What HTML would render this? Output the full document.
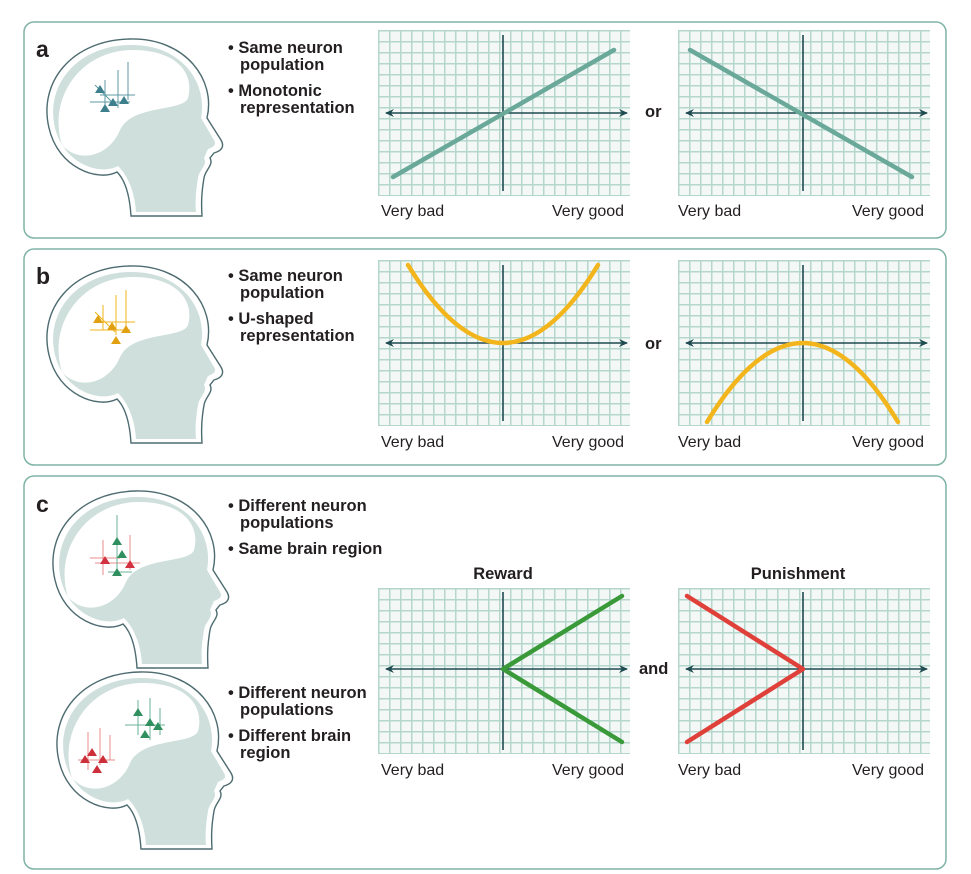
<!DOCTYPE html>
<html><head><meta charset="utf-8"><style>
html,body{margin:0;padding:0;background:#fff}
svg{display:block}
text{font-family:"Liberation Sans",sans-serif;fill:#231f20}
.b{font-weight:bold;font-size:16.5px}
.l{font-size:16px}
</style></head><body>
<svg width="971" height="874" viewBox="0 0 971 874" xmlns="http://www.w3.org/2000/svg">
<defs>
<pattern id="g" x="0" y="0" width="11" height="11" patternUnits="userSpaceOnUse">
<rect width="11" height="11" fill="#f3f8f6"/>
<path d="M0.75,0V11M0,0.75H11" stroke="#b5d6cc" stroke-width="1.5"/>
</pattern>
<marker id="ar" markerWidth="10" markerHeight="10" refX="8" refY="5" orient="auto" markerUnits="userSpaceOnUse">
<path d="M0,1 L9,5 L0,9 L3,5Z" fill="#1f4a50"/>
</marker>
<g id="head">
<path d="M117,172 C98,182 58,168 49,128 C38,82 72,40 130,39 C186,38 216,80 207,118 L221,140 C225,147 221,151 214,153 L210,158 C214,165 205,170 204,178 C202,190 201,200 202,216 L131,216 C130,200 127,182 117,172 Z" fill="#fff" stroke="#4d6b70" stroke-width="1.4"/>
<path d="M118,166 C100,176 64,164 55,128 C45,86 76,46 130,45 C181,44 208,82 201,118 L214,140 C217,145 213,147 208,149 L204,158 C208,165 199,170 198,178 C196,190 195,200 196,212 L136,212 C135,196 130,178 118,166 Z" fill="#cfe0dc"/>
<path d="M62,145 C48,100 78,52 130,50 C175,49 195,72 188,98 C183,112 132,104 120,130 C110,155 80,165 62,145 Z" fill="#fff"/>
</g>
<g id="grid">
<rect x="0" y="0" width="252" height="166" fill="url(#g)"/>
</g>
</defs>

<rect x="24" y="22" width="922" height="216" rx="10" fill="#fff" stroke="#7fb3a6" stroke-width="1.5"/>
<rect x="24" y="249" width="922" height="216" rx="10" fill="#fff" stroke="#7fb3a6" stroke-width="1.5"/>
<rect x="24" y="476" width="922" height="393" rx="10" fill="#fff" stroke="#7fb3a6" stroke-width="1.5"/>

<use href="#head"/>
<use href="#head" transform="translate(0,227)"/>
<use href="#head" transform="translate(6,452)"/>
<use href="#head" transform="translate(10,633)"/>

<g stroke-width="1" fill="none">
<g stroke="#5c9aa3"><path d="M100,95H135M105,80V105M118,70V108M128,62V100M90,102H130M95,85L115,105"/></g>
<g fill="#3d7f8c"><path d="M100,85l5,8h-10z M113,98l5,8h-10z M124,96l5,8h-10z M105,104l5,8h-10z"/></g>
<g stroke="#f2b51b"><path d="M98,322H135M103,305V330M116,295V335M126,290V328M90,330H130M95,312L115,332"/></g>
<g fill="#e0a010"><path d="M98,315l5,8h-10z M112,322l5,8h-10z M126,325l5,8h-10z M116,336l5,8h-10z"/></g>
<g stroke="#e88c8c"><path d="M95,563H140M103,540V575M130,535V570M90,558H120"/></g>
<g stroke="#6ab39a"><path d="M117,515V570M108,572H132"/></g>
<g fill="#d33040"><path d="M130,560l5,8h-10z M105,556l5,8h-10z"/></g>
<g fill="#2f8f5f"><path d="M117,537l5,8h-10z M117,568l5,8h-10z M122,550l5,8h-10z"/></g>
<g stroke="#e88c8c"><path d="M78,760H115M88,732V770M100,728V765M110,735V760"/></g>
<g fill="#cc2f3a"><path d="M92,748l5,8h-10z M103,755l5,8h-10z M97,765l5,8h-10z M85,755l5,8h-10z"/></g>
<g stroke="#6ab39a"><path d="M125,725H165M138,700V735M150,698V740M160,708V735"/></g>
<g fill="#2f8f5f"><path d="M138,708l5,8h-10z M150,718l5,8h-10z M145,730l5,8h-10z M158,722l5,8h-10z"/></g>
</g>

<text x="36" y="57" style="font-weight:bold;font-size:23px">a</text>
<text x="36" y="284" style="font-weight:bold;font-size:23px">b</text>
<text x="36" y="512" style="font-weight:bold;font-size:23px">c</text>

<text class="b" x="228" y="53">• Same neuron</text>
<text class="b" x="240" y="70">population</text>
<text class="b" x="228" y="96">• Monotonic</text>
<text class="b" x="240" y="113">representation</text>
<text class="b" x="228" y="281">• Same neuron</text>
<text class="b" x="240" y="298">population</text>
<text class="b" x="228" y="324">• U-shaped</text>
<text class="b" x="240" y="341">representation</text>
<text class="b" x="228" y="511">• Different neuron</text>
<text class="b" x="240" y="528">populations</text>
<text class="b" x="228" y="554">• Same brain region</text>
<text class="b" x="228" y="698">• Different neuron</text>
<text class="b" x="240" y="715">populations</text>
<text class="b" x="228" y="741">• Different brain</text>
<text class="b" x="240" y="758">region</text>

<use href="#grid" x="378" y="30"/>
<use href="#grid" x="678" y="30"/>
<use href="#grid" x="378" y="260"/>
<use href="#grid" x="678" y="260"/>
<use href="#grid" x="378" y="588"/>
<use href="#grid" x="678" y="588"/>
<g stroke="#1f4a50" stroke-width="1.6" fill="none">
<path d="M503,35V191M803,35V191M503,265V421M803,265V421M503,592V750M803,592V750"/>
<path d="M503,113H386" marker-end="url(#ar)"/><path d="M503,113H627" marker-end="url(#ar)"/>
<path d="M803,113H686" marker-end="url(#ar)"/><path d="M803,113H927" marker-end="url(#ar)"/>
<path d="M503,343H386" marker-end="url(#ar)"/><path d="M503,343H627" marker-end="url(#ar)"/>
<path d="M803,343H686" marker-end="url(#ar)"/><path d="M803,343H927" marker-end="url(#ar)"/>
<path d="M503,669H386" marker-end="url(#ar)"/><path d="M503,669H627" marker-end="url(#ar)"/>
<path d="M803,669H686" marker-end="url(#ar)"/><path d="M803,669H927" marker-end="url(#ar)"/>
</g>
<g fill="none" stroke-width="4.5" stroke-linecap="round">
<path d="M393,177L614,50M690,50L912,177" stroke="#6aa89a"/>
<path d="M408,265Q503,421 598,265M707,422Q803,264 898,422" stroke="#f2b51b"/>
<path d="M622,596L503,669L622,742" stroke="#3a9a3a" stroke-linejoin="round"/>
<path d="M687,596L803,669L687,742" stroke="#e0403a" stroke-linejoin="round"/>
</g>

<text class="l" x="381" y="216">Very bad</text><text class="l" x="552" y="216">Very good</text>
<text class="l" x="678" y="216">Very bad</text><text class="l" x="852" y="216">Very good</text>
<text class="l" x="381" y="447">Very bad</text><text class="l" x="552" y="447">Very good</text>
<text class="l" x="678" y="447">Very bad</text><text class="l" x="852" y="447">Very good</text>
<text class="l" x="381" y="775">Very bad</text><text class="l" x="552" y="775">Very good</text>
<text class="l" x="678" y="775">Very bad</text><text class="l" x="852" y="775">Very good</text>
<text class="b" x="645" y="117">or</text>
<text class="b" x="645" y="349">or</text>
<text class="b" x="639" y="674">and</text>
<text class="b" x="503" y="579" text-anchor="middle">Reward</text>
<text class="b" x="798" y="579" text-anchor="middle">Punishment</text>
</svg>
</body></html>
